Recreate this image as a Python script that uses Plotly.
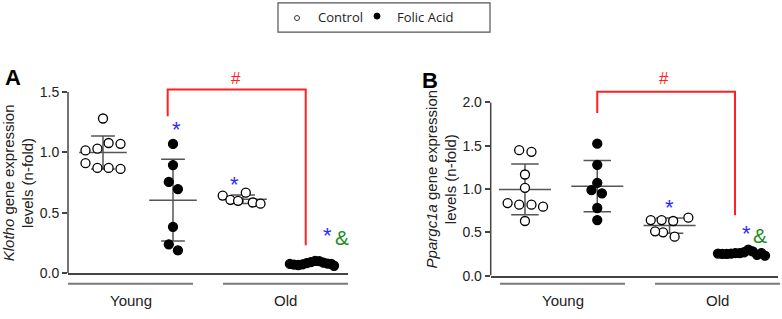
import numpy as np
import plotly.graph_objects as go

# ---------------- data ----------------
groups = ["Young Control", "Young Folic Acid", "Old Control", "Old Folic Acid"]
group_pos = [1, 2, 3, 4]
age_labels = ["Young", "Old"]
legend_labels = ["Control", "Folic Acid"]

# Panel A: Klotho
klotho_young_ctrl = [1.28, 1.015, 1.03, 1.077, 1.07, 0.91, 0.87, 0.87, 0.862]
klotho_young_ctrl_jit = [0.0, -0.25, -0.08, 0.08, 0.25, -0.25, -0.08, 0.08, 0.25]
klotho_young_fa = [1.069, 0.894, 0.754, 0.695, 0.382, 0.237, 0.188]
klotho_young_fa_jit = [0.0, 0.0, -0.06, 0.07, 0.0, -0.06, 0.07]
klotho_old_ctrl = [0.641, 0.606, 0.598, 0.665, 0.584, 0.574]
klotho_old_ctrl_jit = [-0.29, -0.18, -0.07, 0.04, 0.14, 0.25]
klotho_old_fa = [0.075, 0.07, 0.066, 0.072, 0.082, 0.09, 0.1, 0.098, 0.085, 0.078, 0.075, 0.06]
klotho_old_fa_jit = [-0.33, -0.27, -0.21, -0.15, -0.09, -0.03, 0.03, 0.09, 0.15, 0.21, 0.26, 0.3]

# Panel B: Ppargc1a
pgc_young_ctrl = [1.449, 1.43, 1.168, 1.014, 0.838, 0.819, 0.819, 0.796, 0.631]
pgc_young_ctrl_jit = [-0.08, 0.09, 0.0, 0.0, -0.24, -0.08, 0.09, 0.25, 0.0]
pgc_young_fa = [1.524, 1.28, 1.07, 0.988, 0.95, 0.781, 0.642]
pgc_young_fa_jit = [0.0, 0.0, 0.0, -0.08, 0.065, 0.0, 0.0]
pgc_old_ctrl = [0.642, 0.642, 0.631, 0.669, 0.5, 0.45, 0.511]
pgc_old_ctrl_jit = [-0.26, -0.11, 0.05, 0.26, -0.09, 0.07, -0.2]
pgc_old_fa = [0.255, 0.25, 0.25, 0.255, 0.26, 0.26, 0.27, 0.3, 0.28, 0.24, 0.26, 0.23]
pgc_old_fa_jit = [-0.33, -0.27, -0.21, -0.15, -0.09, -0.03, 0.03, 0.09, 0.15, 0.21, 0.27, 0.32]

tickvals_A = [0, 0.5, 1.0, 1.5]
ticktext_A = ["0.0", "0.5", "1.0", "1.5"]
tickvals_B = [0, 0.5, 1.0, 1.5, 2.0]
ticktext_B = ["0.0", "0.5", "1.0", "1.5", "2.0"]

# ---------------- styling ----------------
W, H = 782, 319
FONT = "Arial, Liberation Sans, sans-serif"
AXC = "#444444"
STATC = "#555555"
BLUE = "#2a2aff"
GREEN = "#1c8c1c"
RED = "#ff2020"

YMAX_A = 1.65
YMAX_B = 2.35


def px(x):
    return x / W


def py(y):
    return 1 - y / H


fig = go.Figure()

panels = [
    dict(xa="x", ya="y",
         data=[(klotho_young_ctrl, klotho_young_ctrl_jit, False),
               (klotho_young_fa, klotho_young_fa_jit, True),
               (klotho_old_ctrl, klotho_old_ctrl_jit, False),
               (klotho_old_fa, klotho_old_fa_jit, True)],
         mean_hw=0.34, cap_hw=0.17),
    dict(xa="x2", ya="y2",
         data=[(pgc_young_ctrl, pgc_young_ctrl_jit, False),
               (pgc_young_fa, pgc_young_fa_jit, True),
               (pgc_old_ctrl, pgc_old_ctrl_jit, False),
               (pgc_old_fa, pgc_old_fa_jit, True)],
         mean_hw=0.36, cap_hw=0.19),
]

for p in panels:
    for g, name, (vals, jit, filled) in zip(group_pos, groups, p["data"]):
        v = np.array(vals)
        m = v.mean()
        s = v.std(ddof=1)
        fig.add_trace(go.Scatter(
            x=[g - p["mean_hw"], g + p["mean_hw"]], y=[m, m], mode="lines",
            line=dict(color=STATC, width=1.5), xaxis=p["xa"], yaxis=p["ya"],
            showlegend=False, hoverinfo="skip"))
        cw = p["cap_hw"]
        fig.add_trace(go.Scatter(
            x=[g, g, None, g - cw, g + cw, None, g - cw, g + cw],
            y=[m - s, m + s, None, m + s, m + s, None, m - s, m - s],
            mode="lines", line=dict(color=STATC, width=1.5),
            xaxis=p["xa"], yaxis=p["ya"], showlegend=False, hoverinfo="skip"))
        fig.add_trace(go.Scatter(
            x=[g + j for j in jit], y=vals, mode="markers", name=name,
            marker=dict(size=9, color="black" if filled else "white",
                        line=dict(color="black", width=1.3)),
            xaxis=p["xa"], yaxis=p["ya"], showlegend=False))

# ---------------- axes ----------------
axA_x = [px(68), px(348)]
axA_y = [py(280), py(280 - YMAX_A * 123.8)]
axB_x = [px(490.7), px(778)]
axB_y = [py(282.7), py(282.7 - YMAX_B * 88.8)]

common_x = dict(showgrid=False, zeroline=False, showticklabels=False, ticks="",
                showline=True, linecolor=AXC, linewidth=1.5)
common_y = dict(showgrid=False, zeroline=False, showline=False, ticks="outside",
                ticklen=5, tickwidth=1.5, tickcolor=AXC,
                tickfont=dict(family=FONT, size=14, color="#222"))

fig.update_layout(
    width=W, height=H,
    margin=dict(l=0, r=0, t=0, b=0),
    paper_bgcolor="white", plot_bgcolor="white",
    showlegend=False,
    xaxis=dict(domain=axA_x, range=[0.5, 4.5], anchor="y", **common_x),
    yaxis=dict(domain=axA_y, range=[0, YMAX_A], anchor="x",
               tickvals=tickvals_A, ticktext=ticktext_A, **common_y),
    xaxis2=dict(domain=axB_x, range=[0.526, 4.5], anchor="y2", **common_x),
    yaxis2=dict(domain=axB_y, range=[0, YMAX_B], anchor="x2",
                tickvals=tickvals_B, ticktext=ticktext_B, **common_y),
)

shapes = []
ann = []

# y axis lines (stop at top tick)
shapes.append(dict(type="line", xref="x domain", yref="y", x0=0, x1=0, y0=0, y1=1.5,
                   line=dict(color=AXC, width=1.5)))
shapes.append(dict(type="line", xref="x2 domain", yref="y2", x0=0, x1=0, y0=0, y1=2.0,
                   line=dict(color=AXC, width=1.5)))

# age group lines + labels
GL = "#7a7a7a"
for segs in ([(68, 193), (223, 348)], [(500, 625), (655, 780)]):
    for (x0, x1), lab in zip(segs, age_labels):
        shapes.append(dict(type="line", xref="paper", yref="paper", x0=px(x0), x1=px(x1),
                           y0=py(291), y1=py(291), line=dict(color=GL, width=2)))
        ann.append(dict(xref="paper", yref="paper", x=px((x0 + x1) / 2), y=py(308),
                        text=lab, showarrow=False, xanchor="center", yanchor="middle",
                        font=dict(family=FONT, size=15, color="#222")))

# brackets
shapes.append(dict(type="path", xref="x", yref="y",
                   path="M 1.924 1.298 L 1.924 1.521 L 3.896 1.521 L 3.896 0.229",
                   line=dict(color=RED, width=2)))
shapes.append(dict(type="path", xref="x2", yref="y2",
                   path="M 2.0 1.877 L 2.0 2.125 L 3.905 2.125 L 3.905 0.698",
                   line=dict(color=RED, width=2)))


def txt(xr, yr, x, y, t, color, size):
    ann.append(dict(xref=xr, yref=yr, x=x, y=y, text=t, showarrow=False,
                    xanchor="center", yanchor="middle",
                    font=dict(family=FONT, size=size, color=color)))


# significance marks A
txt("x", "y", 2.9, 1.61, "#", RED, 17)
txt("x", "y", 2.05, 1.19, "*", BLUE, 22)
txt("x", "y", 2.876, 0.73, "*", BLUE, 22)
txt("x", "y", 4.21, 0.31, "*", BLUE, 22)
txt("x", "y", 4.41, 0.296, "&", GREEN, 21)
# significance marks B
txt("x2", "y2", 2.927, 2.28, "#", RED, 17)
txt("x2", "y2", 3.006, 0.79, "*", BLUE, 22)
txt("x2", "y2", 4.067, 0.49, "*", BLUE, 22)
txt("x2", "y2", 4.25, 0.462, "&", GREEN, 21)

# panel letters
ann.append(dict(xref="paper", yref="paper", x=px(13), y=py(80), text="<b>A</b>",
                showarrow=False, xanchor="center", yanchor="middle",
                font=dict(family=FONT, size=22, color="black")))
ann.append(dict(xref="paper", yref="paper", x=px(430), y=py(83), text="<b>B</b>",
                showarrow=False, xanchor="center", yanchor="middle",
                font=dict(family=FONT, size=22, color="black")))

# y titles
ann.append(dict(xref="paper", yref="paper", x=px(18), y=py(188),
                text="<i>Klotho</i> gene expression<br>levels (n-fold)",
                textangle=-90, showarrow=False, xanchor="center", yanchor="middle",
                font=dict(family=FONT, size=15, color="#222")))
ann.append(dict(xref="paper", yref="paper", x=px(441), y=py(184),
                text="<i>Ppargc1a</i> gene expression<br>levels (n-fold)",
                textangle=-90, showarrow=False, xanchor="center", yanchor="middle",
                font=dict(family=FONT, size=15, color="#222")))

# legend box
LF = "Open Sans, Noto Sans, sans-serif"
shapes.append(dict(type="rect", xref="paper", yref="paper", x0=px(278), x1=px(490),
                   y0=py(33), y1=py(3), line=dict(color="#555", width=1.2),
                   fillcolor="white"))
shapes.append(dict(type="circle", xref="paper", yref="paper", xsizemode="pixel",
                   ysizemode="pixel", xanchor=px(297), yanchor=py(18.5),
                   x0=-2.5, x1=2.5, y0=-2.5, y1=2.5,
                   line=dict(color="#333", width=1), fillcolor="white"))
shapes.append(dict(type="circle", xref="paper", yref="paper", xsizemode="pixel",
                   ysizemode="pixel", xanchor=px(377), yanchor=py(16.5),
                   x0=-3, x1=3, y0=-3, y1=3,
                   line=dict(color="black", width=1), fillcolor="black"))
ann.append(dict(xref="paper", yref="paper", x=px(316), y=py(17.5), text=legend_labels[0],
                showarrow=False, xanchor="left", yanchor="middle",
                font=dict(family=LF, size=13, color="#222")))
ann.append(dict(xref="paper", yref="paper", x=px(395), y=py(17.5), text=legend_labels[1],
                showarrow=False, xanchor="left", yanchor="middle",
                font=dict(family=LF, size=13, color="#222")))

fig.update_layout(shapes=shapes, annotations=ann)
fig.write_html("out.html",
               config={"displayModeBar": False},
               post_script="document.body.style.margin='0';document.body.style.overflow='hidden';")
